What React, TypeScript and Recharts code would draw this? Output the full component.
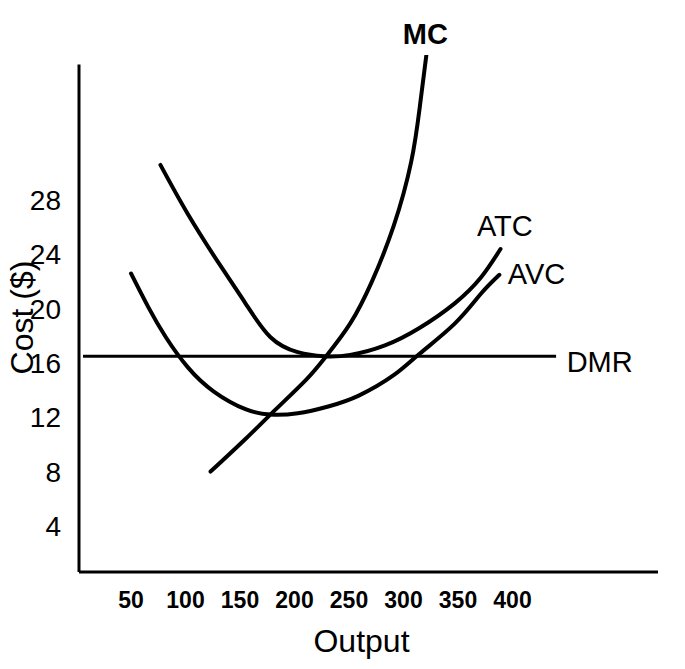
import { Line, LineChart, ReferenceDot, ReferenceLine, XAxis, YAxis } from 'recharts';

// output / cost values
const atcOutput = [77, 102, 131, 155, 178, 203, 227, 251, 283, 315, 347, 371, 389];
const atcCost = [30.6, 27.0, 23.3, 20.4, 17.9, 16.8, 16.5, 16.6, 17.3, 18.6, 20.4, 22.3, 24.4];

const avcOutput = [50, 66, 82, 102, 126, 155, 178, 203, 231, 259, 291, 315, 347, 371, 388];
const avcCost = [22.6, 20.1, 17.9, 15.7, 13.9, 12.6, 12.2, 12.3, 12.8, 13.6, 15.1, 16.7, 18.9, 21.1, 22.5];

const mcOutput = [123, 155, 183, 211, 229, 251, 271, 291, 307, 315, 321];
const mcCost = [8.0, 10.4, 12.6, 14.8, 16.5, 18.9, 22.0, 26.1, 30.8, 34.9, 38.7];

const dmrOutput = [6, 440];
const dmrCost = [16.5, 16.5];

const xTicks = [50, 100, 150, 200, 250, 300, 350, 400];
const yTicks = [4, 8, 12, 16, 20, 24, 28];

const curveNames = ['MC', 'ATC', 'AVC', 'DMR'];
const curveLabelOutput = [320, 393, 422, 480];
const curveLabelCost = [40.3, 26.1, 22.6, 16.1];

const xDomain = [2.3, 533.5];
const yDomain = [0.6, 38.7];
const yAxisTop = 38;

const toPoints = (xs: number[], ys: number[]) => xs.map((x, i) => ({ output: x, cost: ys[i] }));

const font = '"Liberation Sans", Arial, sans-serif';

export default function App() {
  const curves = [
    { name: 'ATC', data: toPoints(atcOutput, atcCost) },
    { name: 'AVC', data: toPoints(avcOutput, avcCost) },
    { name: 'MC', data: toPoints(mcOutput, mcCost) },
  ];

  return (
    <div style={{ position: 'absolute', left: 0, top: 0, background: '#fff', fontFamily: font }}>
      <LineChart width={685} height={669} margin={{ top: 55, right: 27, bottom: 0, left: 19 }}>
        <XAxis
          type="number"
          dataKey="output"
          domain={xDomain}
          ticks={xTicks}
          allowDataOverflow
          height={97}
          tickLine={false}
          tickSize={0}
          tickMargin={20}
          stroke="#000"
          strokeWidth={3}
          tick={{ fontSize: 23, fontWeight: 700, fill: '#000', fontFamily: font }}
          label={{
            value: 'Output',
            position: 'insideBottom',
            offset: 17,
            dx: -7,
            fontSize: 32,
            fill: '#000',
            fontFamily: font,
          }}
        />
        <YAxis
          type="number"
          dataKey="cost"
          domain={yDomain}
          ticks={yTicks}
          allowDataOverflow
          width={60}
          axisLine={false}
          tickLine={false}
          tickSize={0}
          tickMargin={18}
          tick={{ fontSize: 28, fill: '#000', fontFamily: font }}
          label={{
            value: 'Cost ($)',
            angle: -90,
            position: 'insideLeft',
            offset: 3,
            dy: 4,
            fontSize: 32,
            fill: '#000',
            fontFamily: font,
            style: { textAnchor: 'middle' },
          }}
        />
        <ReferenceLine
          segment={[
            { x: xDomain[0], y: yDomain[0] },
            { x: xDomain[0], y: yAxisTop },
          ]}
          stroke="#000"
          strokeWidth={3}
          ifOverflow="visible"
        />
        <Line
          data={toPoints(dmrOutput, dmrCost)}
          dataKey="cost"
          type="linear"
          stroke="#000"
          strokeWidth={3}
          dot={false}
          activeDot={false}
          isAnimationActive={false}
        />
        {curves.map((c) => (
          <Line
            key={c.name}
            data={c.data}
            dataKey="cost"
            name={c.name}
            type="natural"
            stroke="#000"
            strokeWidth={4}
            strokeLinecap="round"
            dot={false}
            activeDot={false}
            isAnimationActive={false}
          />
        ))}
        {curveNames.map((n, i) => (
          <ReferenceDot
            key={n}
            x={curveLabelOutput[i]}
            y={curveLabelCost[i]}
            r={0}
            stroke="none"
            ifOverflow="visible"
            label={{
              value: n,
              position: 'center',
              fontSize: 29,
              fontWeight: n === 'MC' ? 700 : 400,
              fill: '#000',
              fontFamily: font,
            }}
          />
        ))}
      </LineChart>
    </div>
  );
}
